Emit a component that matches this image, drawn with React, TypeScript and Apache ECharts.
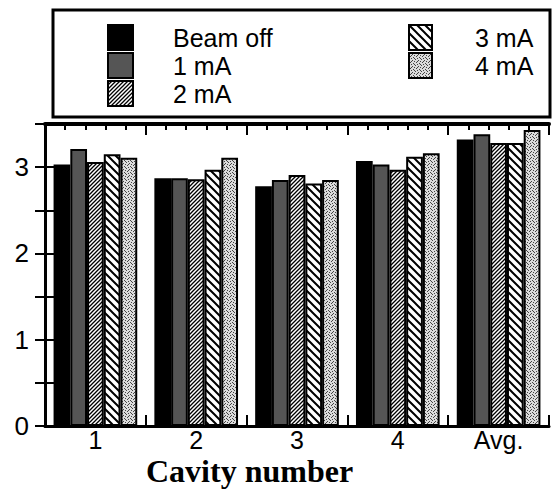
import React, { useEffect, useRef } from "react";
import * as echarts from "echarts";

const categories = ["1", "2", "3", "4", "Avg."];
const seriesNames = ["Beam off", "1 mA", "2 mA", "3 mA", "4 mA"];
const beamOff = [3.03, 2.87, 2.78, 3.07, 3.32];
const mA1 = [3.21, 2.87, 2.85, 3.03, 3.38];
const mA2 = [3.06, 2.86, 2.91, 2.97, 3.28];
const mA3 = [3.15, 2.97, 2.81, 3.12, 3.28];
const mA4 = [3.11, 3.11, 2.85, 3.16, 3.43];
const yTicks = [0, 1, 2, 3];

function makeTile(kind: string): HTMLCanvasElement {
  const c = document.createElement("canvas");
  const ctx = c.getContext("2d")!;
  if (kind === "fwd") {
    c.width = 4; c.height = 4;
    ctx.fillStyle = "#ffffff"; ctx.fillRect(0, 0, 4, 4);
    ctx.strokeStyle = "#000"; ctx.lineWidth = 1.3;
    ctx.beginPath();
    ctx.moveTo(-1, 5); ctx.lineTo(5, -1);
    ctx.moveTo(-1, 1); ctx.lineTo(1, -1);
    ctx.moveTo(3, 5); ctx.lineTo(5, 3);
    ctx.stroke();
  } else if (kind === "back") {
    c.width = 8; c.height = 8;
    ctx.fillStyle = "#ffffff"; ctx.fillRect(0, 0, 8, 8);
    ctx.strokeStyle = "#000"; ctx.lineWidth = 2;
    ctx.beginPath();
    ctx.moveTo(-1, -1); ctx.lineTo(9, 9);
    ctx.moveTo(-1, 7); ctx.lineTo(1, 9);
    ctx.moveTo(7, -1); ctx.lineTo(9, 1);
    ctx.stroke();
  } else {
    c.width = 6; c.height = 6;
    ctx.fillStyle = "#dcdcdc"; ctx.fillRect(0, 0, 6, 6);
    ctx.fillStyle = "#444";
    const pts = [[0, 0], [3, 1], [1, 3], [4, 4], [5, 2], [2, 5], [5, 5], [2, 2]];
    pts.forEach(([x, y]) => ctx.fillRect(x, y, 1, 1));
  }
  return c;
}

export default function App() {
  const ref = useRef<HTMLDivElement>(null);
  useEffect(() => {
    document.body.style.margin = "0";
    const chart = echarts.init(ref.current!, null, { renderer: "svg" });
    const sans = "Liberation Sans, Arial, sans-serif";
    const fills: any[] = [
      "#000000",
      "#555555",
      { image: makeTile("fwd"), repeat: "repeat" },
      { image: makeTile("back"), repeat: "repeat" },
      { image: makeTile("dots"), repeat: "repeat" },
    ];
    const values = [beamOff, mA1, mA2, mA3, mA4];
    const option: any = {
      animation: false,
      title: {
        text: "Cavity number",
        left: 146,
        top: 455,
        padding: 0,
        textStyle: { fontFamily: "Liberation Serif, Times New Roman, serif", fontWeight: "bold", fontSize: 32, color: "#000", lineHeight: 32 },
      },
      legend: [
        {
          data: seriesNames.slice(0, 3),
          orient: "vertical",
          left: 107,
          top: 24,
          padding: 0,
          icon: "rect",
          itemWidth: 25,
          itemHeight: 25,
          itemGap: 1,
          selectedMode: false,
          textStyle: { fontFamily: sans, fontSize: 25, color: "#000", lineHeight: 25, padding: [0, 0, 0, 35] },
        },
        {
          data: seriesNames.slice(3),
          orient: "vertical",
          left: 408,
          top: 24,
          padding: 0,
          icon: "rect",
          itemWidth: 23,
          itemHeight: 25,
          itemGap: 1,
          selectedMode: false,
          textStyle: { fontFamily: sans, fontSize: 25, color: "#000", lineHeight: 25, padding: [0, 0, 0, 38] },
        },
      ],
      graphic: [
        {
          type: "rect",
          shape: { x: 53, y: 10, width: 497, height: 107 },
          style: { fill: "none", stroke: "#000", lineWidth: 3 },
          z: 10,
        },
      ],
      grid: { left: 45, right: 3, top: 124, bottom: 63 },
      xAxis: [
        {
          type: "category",
          data: categories,
          position: "bottom",
          axisLine: { show: true, lineStyle: { color: "#000", width: 3 } },
          axisTick: { show: false },
          axisLabel: { fontFamily: sans, fontSize: 25, color: "#000", margin: 3, lineHeight: 22 },
        },
        {
          type: "value",
          position: "top",
          min: 0,
          max: 5,
          interval: 1,
          axisLine: { show: true, onZero: false, lineStyle: { color: "#000", width: 4 } },
          axisTick: { show: true, inside: true, length: 11, lineStyle: { color: "#000", width: 2 } },
          minorTick: { show: true, splitNumber: 5, length: 6, lineStyle: { color: "#000", width: 2 } },
          axisLabel: { show: false },
          splitLine: { show: false },
        },
        {
          type: "value",
          position: "bottom",
          min: 0,
          max: 5,
          interval: 1,
          axisLine: { show: false, onZero: false },
          axisTick: { show: true, inside: true, length: 11, lineStyle: { color: "#000", width: 2 } },
          minorTick: { show: true, splitNumber: 5, length: 6, lineStyle: { color: "#000", width: 2 } },
          axisLabel: { show: false },
          splitLine: { show: false },
        },
      ],
      yAxis: [
        {
          type: "value",
          min: 0,
          max: 3.5,
          interval: 0.5,
          position: "left",
          axisLine: { show: true, lineStyle: { color: "#000", width: 3 } },
          axisTick: { show: true, inside: true, length: 10, lineStyle: { color: "#000", width: 2 } },
          axisLabel: {
            fontFamily: sans,
            fontSize: 26,
            color: "#000",
            margin: 16,
            formatter: (v: number) => (yTicks.indexOf(v) >= 0 ? String(v) : ""),
          },
          splitLine: { show: false },
        },
        {
          type: "value",
          min: 0,
          max: 3.5,
          interval: 0.5,
          position: "right",
          axisLine: { show: true, lineStyle: { color: "#000", width: 3 } },
          axisTick: { show: true, inside: true, length: 10, lineStyle: { color: "#000", width: 2 } },
          axisLabel: { show: false },
          splitLine: { show: false },
        },
      ],
      series: seriesNames.map((name, i) => ({
        name,
        type: "bar",
        xAxisIndex: 0,
        yAxisIndex: 0,
        data: values[i],
        barGap: "0%",
        barCategoryGap: "17%",
        itemStyle: { color: fills[i], borderColor: "#000", borderWidth: 2 },
      })),
    };
    chart.setOption(option);
    return () => chart.dispose();
  }, []);
  return <div ref={ref} style={{ width: 552, height: 489 }} />;
}
